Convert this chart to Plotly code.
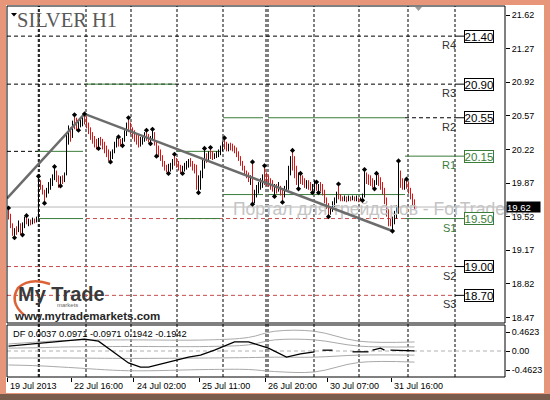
import plotly.graph_objects as go

# ---------------- data ----------------
chart_title = "SILVER H1"
bar_index = list(range(204))

opens = [
    19.60, 19.50, 19.42, 19.35, 19.38, 19.36, 19.45, 19.35, 19.44, 19.48, 19.46, 19.47, 19.45, 19.49, 19.47,
    19.50, 19.90, 19.82, 19.77, 19.72, 19.80, 19.85, 19.88, 19.94, 19.98, 19.90, 19.85, 19.92, 19.90, 19.96,
    20.33, 20.40, 20.35, 20.50, 20.46, 20.44, 20.50, 20.52, 20.55,
    20.50, 20.46, 20.40, 20.35, 20.30, 20.27, 20.25, 20.31, 20.28, 20.24, 20.20, 20.16, 20.12, 20.18, 20.20,
    20.28, 20.30, 20.28, 20.27, 20.32, 20.40, 20.47, 20.44,
    20.40, 20.36, 20.33, 20.30, 20.27, 20.32, 20.34, 20.38, 20.34, 20.31, 20.35, 20.36, 20.28, 20.20, 20.16,
    20.12, 20.06, 20.02, 20.00, 20.04, 20.06, 20.10, 20.08,
    20.05, 20.02, 19.99, 20.03, 20.06, 20.08, 20.10, 20.06, 20.03, 20.00, 19.82, 19.92, 19.98, 20.10, 20.15,
    20.12, 20.18, 20.15, 20.14, 20.16, 20.18, 20.20, 20.24,
    20.28, 20.25, 20.24, 20.26, 20.25, 20.22, 20.20, 20.16, 20.12, 20.07, 20.02, 19.98, 19.95, 19.90, 19.92,
    19.70, 19.76, 19.82, 19.85, 19.88, 19.94, 19.90,
    19.88, 19.86, 19.83, 19.80, 19.82, 19.79, 19.84, 19.76, 19.74, 19.82, 19.88, 20.02, 20.12, 20.04, 19.95,
    19.88, 19.90, 19.88, 19.87, 19.84, 19.86, 19.83, 19.81,
    19.84, 19.86, 19.81, 19.84, 19.80, 19.76, 19.68, 19.62, 19.58, 19.60, 19.66, 19.70, 19.76, 19.72, 19.71,
    19.70, 19.72, 19.69, 19.71, 19.70, 19.72, 19.70, 19.71,
    19.69, 19.70, 19.74, 19.96, 19.90, 19.88, 19.86, 19.84, 19.88, 19.92, 19.86, 19.82, 19.77, 19.67, 19.55,
    19.45, 19.44, 19.48, 19.55, 19.60, 19.95, 19.86, 19.84, 19.87,
    19.84, 19.78, 19.72, 19.66,
]
highs = [
    19.61, 19.55, 19.45, 19.40, 19.42, 19.48, 19.45, 19.46, 19.52, 19.53, 19.50, 19.49, 19.51, 19.50, 19.52,
    19.94, 19.90, 19.85, 19.80, 19.82, 19.88, 19.92, 19.96, 20.04, 20.00, 19.95, 19.94, 19.95, 19.98, 20.37,
    20.47, 20.45, 20.52, 20.58, 20.55, 20.52, 20.55, 20.57, 20.59,
    20.56, 20.50, 20.45, 20.40, 20.36, 20.33, 20.34, 20.35, 20.33, 20.30, 20.26, 20.22, 20.20, 20.22, 20.30,
    20.34, 20.35, 20.33, 20.34, 20.42, 20.50, 20.55, 20.50,
    20.45, 20.42, 20.38, 20.38, 20.35, 20.36, 20.40, 20.42, 20.38, 20.36, 20.43, 20.40, 20.30, 20.26, 20.22,
    20.16, 20.10, 20.06, 20.07, 20.08, 20.12, 20.17, 20.13,
    20.10, 20.06, 20.05, 20.08, 20.10, 20.12, 20.13, 20.10, 20.07, 20.06, 19.95, 20.00, 20.12, 20.23, 20.18,
    20.20, 20.24, 20.20, 20.18, 20.20, 20.22, 20.26, 20.30,
    20.34, 20.30, 20.28, 20.29, 20.28, 20.26, 20.24, 20.20, 20.15, 20.10, 20.05, 20.00, 19.98, 19.95, 20.09,
    19.80, 19.85, 19.88, 19.92, 19.96, 20.05, 19.98,
    19.95, 19.92, 19.90, 19.86, 19.86, 19.88, 19.84, 19.80, 19.84, 19.90, 20.05, 20.15, 20.21, 20.15, 20.05,
    19.98, 19.97, 19.95, 19.92, 19.90, 19.90, 19.88, 19.86,
    19.90, 19.88, 19.86, 19.88, 19.86, 19.80, 19.72, 19.66, 19.62, 19.68, 19.72, 19.78, 19.86, 19.75, 19.73,
    19.74, 19.73, 19.74, 19.73, 19.74, 19.73, 19.74, 19.72,
    19.72, 19.76, 20.01, 19.98, 19.96, 19.95, 19.92, 19.90, 19.97, 19.96, 19.93, 19.88, 19.82, 19.72, 19.60,
    19.50, 19.52, 19.58, 19.64, 20.10, 20.00, 19.92, 19.90, 19.91,
    19.88, 19.82, 19.76, 19.70,
]
lows = [
    19.49, 19.40, 19.32, 19.30, 19.33, 19.36, 19.33, 19.33, 19.40, 19.44, 19.42, 19.43, 19.44, 19.45, 19.46,
    19.50, 19.80, 19.75, 19.66, 19.72, 19.76, 19.80, 19.84, 19.90, 19.88, 19.82, 19.84, 19.86, 19.88, 19.95,
    20.27, 20.30, 20.34, 20.43, 20.42, 20.42, 20.45, 20.46, 20.48,
    20.44, 20.38, 20.32, 20.28, 20.24, 20.22, 20.23, 20.26, 20.22, 20.18, 20.14, 20.10, 20.09, 20.12, 20.18,
    20.24, 20.25, 20.25, 20.26, 20.30, 20.36, 20.40, 20.38,
    20.33, 20.30, 20.27, 20.24, 20.25, 20.27, 20.30, 20.31, 20.29, 20.28, 20.31, 20.26, 20.15, 20.14, 20.10,
    20.04, 20.00, 19.98, 19.97, 19.99, 20.01, 20.05, 20.03,
    20.00, 19.97, 19.97, 19.99, 20.01, 20.03, 20.04, 20.00, 19.97, 19.80, 19.77, 19.80, 19.92, 20.02, 20.08,
    20.10, 20.12, 20.11, 20.12, 20.13, 20.14, 20.16, 20.20,
    20.22, 20.20, 20.20, 20.21, 20.20, 20.18, 20.14, 20.10, 20.05, 20.00, 19.96, 19.92, 19.88, 19.85, 19.65,
    19.66, 19.72, 19.76, 19.80, 19.82, 19.85, 19.84,
    19.83, 19.80, 19.78, 19.73, 19.76, 19.78, 19.74, 19.67, 19.72, 19.78, 19.80, 19.95, 20.00, 19.92, 19.85,
    19.81, 19.86, 19.85, 19.82, 19.81, 19.80, 19.79, 19.77,
    19.78, 19.79, 19.77, 19.78, 19.74, 19.66, 19.60, 19.52, 19.54, 19.57, 19.62, 19.66, 19.70, 19.68, 19.68,
    19.68, 19.67, 19.68, 19.68, 19.69, 19.68, 19.68, 19.67,
    19.68, 19.69, 19.72, 19.86, 19.85, 19.84, 19.82, 19.81, 19.85, 19.84, 19.80, 19.75, 19.65, 19.52, 19.42,
    19.42, 19.37, 19.44, 19.50, 19.55, 19.82, 19.80, 19.80, 19.81,
    19.76, 19.70, 19.64, 19.60,
]
closes = [
    19.50, 19.42, 19.35, 19.38, 19.36, 19.45, 19.35, 19.44, 19.48, 19.46, 19.47, 19.45, 19.49, 19.47, 19.50,
    19.90, 19.82, 19.77, 19.72, 19.80, 19.85, 19.88, 19.94, 19.98, 19.90, 19.85, 19.92, 19.90, 19.96, 20.33,
    20.40, 20.35, 20.50, 20.46, 20.44, 20.50, 20.52, 20.55, 20.50,
    20.46, 20.40, 20.35, 20.30, 20.27, 20.25, 20.31, 20.28, 20.24, 20.20, 20.16, 20.12, 20.18, 20.20, 20.28,
    20.30, 20.28, 20.27, 20.32, 20.40, 20.47, 20.44, 20.40,
    20.36, 20.33, 20.30, 20.27, 20.32, 20.34, 20.38, 20.34, 20.31, 20.35, 20.36, 20.28, 20.20, 20.16, 20.12,
    20.06, 20.02, 20.00, 20.04, 20.06, 20.10, 20.08, 20.05,
    20.02, 19.99, 20.03, 20.06, 20.08, 20.10, 20.06, 20.03, 20.00, 19.82, 19.92, 19.98, 20.10, 20.15, 20.12,
    20.18, 20.15, 20.14, 20.16, 20.18, 20.20, 20.24, 20.28,
    20.25, 20.24, 20.26, 20.25, 20.22, 20.20, 20.16, 20.12, 20.07, 20.02, 19.98, 19.95, 19.90, 19.92, 19.70,
    19.76, 19.82, 19.85, 19.88, 19.94, 19.90, 19.88,
    19.86, 19.83, 19.80, 19.82, 19.79, 19.84, 19.76, 19.74, 19.82, 19.88, 20.02, 20.12, 20.04, 19.95, 19.88,
    19.90, 19.88, 19.87, 19.84, 19.86, 19.83, 19.81, 19.84,
    19.86, 19.81, 19.84, 19.80, 19.76, 19.68, 19.62, 19.58, 19.60, 19.66, 19.70, 19.76, 19.72, 19.71, 19.70,
    19.72, 19.69, 19.71, 19.70, 19.72, 19.70, 19.71, 19.69,
    19.70, 19.74, 19.96, 19.90, 19.88, 19.86, 19.84, 19.88, 19.92, 19.86, 19.82, 19.77, 19.67, 19.55, 19.45,
    19.44, 19.48, 19.55, 19.60, 19.95, 19.86, 19.84, 19.87, 19.84,
    19.78, 19.72, 19.66, 19.62,
]
for _name, _arr in (("opens", opens), ("highs", highs), ("lows", lows), ("closes", closes)):
    if len(_arr) != len(bar_index):
        raise ValueError(f"{_name} has {len(_arr)} values, expected {len(bar_index)}")

up_fractals = [0, 9, 15, 23, 33, 38, 55, 60, 69, 72, 83, 98, 101, 108, 122, 128, 142, 146, 154, 165, 178, 184, 195, 199]
down_fractals = [3, 7, 18, 26, 35, 45, 51, 57, 71, 74, 80, 87, 95, 122, 133, 137, 145, 152, 155, 160, 177, 183, 192]

zigzag_x = [-0.75, 38, 192]
zigzag_y = [19.71, 20.59, 19.37]

level_names = ["R4", "R3", "R2", "R1", "S1", "S2", "S3"]
level_values = [21.40, 20.90, 20.55, 20.15, 19.50, 19.00, 18.70]
bid_price = 19.62

# daily pivot segments (start bar, end bar, price)
green_seg_start = [14.75, 14.75, 38.75, 84.25, 84.25, 107.25, 107.25, 129.75, 129.75]
green_seg_end = [37.25, 37.25, 83.25, 105.75, 105.75, 127.25, 127.25, 198.25, 198.25]
green_seg_value = [20.20, 19.50, 20.90, 20.20, 19.50, 20.55, 19.75, 20.55, 19.75]

price_ticks = [21.62, 21.27, 20.92, 20.57, 20.22, 19.87, 19.52, 19.17, 18.82, 18.47]
time_tick_pos = [-0.75, 31.25, 62.5, 95.25, 128.25, 159.25, 191.25]
time_tick_labels = ["19 Jul 2013", "22 Jul 16:00", "24 Jul 02:00", "25 Jul 11:00",
                    "26 Jul 20:00", "30 Jul 07:00", "31 Jul 16:00"]
day_separators = [14.9, 15.4, 38.75, 61.25, 84.25, 107.25, 128.75, 129.75, 152.75, 175.25, 199.75, 223.25]

# DF oscillator
df_x = [0, 15, 30, 38, 45, 53, 60, 66, 70, 80, 90, 96, 103, 113, 120, 130, 139, 146, 153, 155,
        157, 162, 165, 172, 180, 181, 182, 186, 188, 189, 191, 203]
df_v = [0.12, 0.19, 0.27, 0.29, 0.24, -0.05, -0.29, -0.39, -0.39, -0.27, -0.15, -0.10, 0.02, 0.22, 0.22,
        0.07, -0.15, -0.07, -0.02, None, 0.02, 0.02, None, -0.02, -0.02, None, 0.02, 0.07, 0.02, None,
        0.02, 0.0037]
band_x = [0, 15, 30, 60, 100, 120, 133, 153, 175, 203]
band_u2 = [0.17, 0.22, 0.26, 0.27, 0.27, 0.33, 0.48, 0.48, 0.24, 0.22]
band_u1 = [0.07, 0.08, 0.10, 0.11, 0.11, 0.15, 0.27, 0.27, 0.12, 0.10]
band_l1 = [-0.17, -0.17, -0.17, -0.18, -0.17, -0.16, -0.15, -0.15, -0.10, -0.10]
band_l2 = [-0.34, -0.36, -0.40, -0.48, -0.45, -0.45, -0.50, -0.51, -0.28, -0.27]
df_label = "DF 0.0037 0.0971 -0.0971 0.1942 -0.1942"
df_ticks = [0.4623, 0.0, -0.4623]
df_tick_text = ["0.4623", "0.00", "-0.4623"]

# ---------------- styling ----------------
GREEN = "#3a7d3a"
RED_DASH = "#c84c4c"
FONT = "Liberation Sans"
L, R, T, B = 7, 45, 6, 23
W, H = 550, 400
PW, PH = W - L - R, H - T - B


def P(px, py):
    return (px - L) / PW, (H - B - py) / PH


def path_from(points, close=False):
    s = ""
    for cmd, pts in points:
        s += cmd + " " + " ".join(f"{P(a, b)[0]:.5f},{P(a, b)[1]:.5f}" for a, b in pts) + " "
    return s + ("Z" if close else "")


fig = go.Figure()

# watermark (under the bars)
fig.add_trace(go.Scatter(x=[112.25], y=[19.585], mode="text",
                         text=["Портал для трейдеров - ForTrader.ru"], textposition="middle right",
                         textfont=dict(family=FONT, size=17.5, color="#c4c4c4"),
                         cliponaxis=False, hoverinfo="skip", xaxis="x", yaxis="y"))

fig.add_trace(go.Ohlc(x=bar_index, open=opens, high=highs, low=lows, close=closes,
                      increasing=dict(line=dict(color="#000000", width=1)),
                      decreasing=dict(line=dict(color="#d01818", width=1)),
                      tickwidth=0.1, xaxis="x", yaxis="y", hoverinfo="skip"))

fig.add_trace(go.Scatter(x=zigzag_x, y=zigzag_y, mode="lines",
                         line=dict(color="#6c6c6c", width=2.5), xaxis="x", yaxis="y", hoverinfo="skip"))

fig.add_trace(go.Scatter(x=up_fractals, y=[highs[i] for i in up_fractals], mode="markers",
                         marker=dict(symbol="diamond", size=4, color="black"), xaxis="x", yaxis="y"))
fig.add_trace(go.Scatter(x=down_fractals, y=[lows[i] for i in down_fractals], mode="markers",
                         marker=dict(symbol="diamond", size=4, color="black"), xaxis="x", yaxis="y"))

# indicator
for band in (band_u2, band_u1, band_l1, band_l2):
    fig.add_trace(go.Scatter(x=band_x, y=band, mode="lines", line=dict(color="#a9a9a9", width=1, shape="spline"),
                             xaxis="x", yaxis="y2", hoverinfo="skip"))
fig.add_trace(go.Scatter(x=df_x, y=df_v, mode="lines", line=dict(color="black", width=1.3),
                         connectgaps=False, xaxis="x", yaxis="y2", hoverinfo="skip"))

shapes = []
# frame
x0, y0 = P(6, 5)
x1, y1 = P(544, 393)
shapes.append(dict(type="rect", xref="paper", yref="paper", x0=x0, y0=y0, x1=x1, y1=y1,
                   fillcolor="white", line=dict(width=0), layer="below"))
x0, y0 = P(0, 394)
x1, y1 = P(550, 400)
shapes.append(dict(type="rect", xref="paper", yref="paper", x0=x0, y0=y0, x1=x1, y1=y1,
                   fillcolor="#7a5c4c", line=dict(width=0), layer="below"))

# vertical day separators
for xs in day_separators:
    shapes.append(dict(type="line", xref="x", yref="paper", x0=xs, x1=xs, y0=0, y1=1,
                       line=dict(color="black", width=1, dash="3px,2px"), layer="below"))

# bid line
shapes.append(dict(type="line", xref="x", yref="y", x0=-0.75, x1=248.25, y0=bid_price, y1=bid_price,
                   line=dict(color="#b8b8b8", width=1), layer="below"))

# full-width levels
for nm, val in zip(level_names, level_values):
    if nm in ("R4", "R3"):
        shapes.append(dict(type="line", xref="x", yref="y", x0=-0.75, x1=223.25, y0=val, y1=val,
                           line=dict(color="black", width=1, dash="4px,3px"), layer="below"))
    if nm in ("S2", "S3"):
        shapes.append(dict(type="line", xref="x", yref="y", x0=-0.75, x1=223.25, y0=val, y1=val,
                           line=dict(color=RED_DASH, width=1, dash="4px,3px"), layer="below"))
# partial dashed levels
shapes.append(dict(type="line", xref="x", yref="y", x0=-0.75, x1=14.75, y0=20.20, y1=20.20,
                   line=dict(color="black", width=1, dash="4px,3px"), layer="below"))
shapes.append(dict(type="line", xref="x", yref="y", x0=38.75, x1=198.25, y0=19.50, y1=19.50,
                   line=dict(color=RED_DASH, width=1, dash="4px,3px"), layer="below"))
shapes.append(dict(type="line", xref="x", yref="y", x0=198.25, x1=223.25, y0=20.55, y1=20.55,
                   line=dict(color="black", width=1, dash="4px,3px"), layer="below"))
# green daily segments
for s, e, v in zip(green_seg_start, green_seg_end, green_seg_value):
    shapes.append(dict(type="line", xref="x", yref="y", x0=s, x1=e, y0=v, y1=v,
                       line=dict(color=GREEN, width=1), layer="below"))
for nm, val in zip(level_names, level_values):
    if nm in ("R1", "S1"):
        shapes.append(dict(type="line", xref="x", yref="y", x0=198.25, x1=223.25, y0=val, y1=val,
                           line=dict(color=GREEN, width=1), layer="below"))
    col = GREEN if nm in ("R1", "S1") else "black"
    shapes.append(dict(type="line", xref="x", yref="y", x0=223.25, x1=227.75, y0=val, y1=val,
                       line=dict(color=col, width=1), layer="below"))

# zero line in indicator
shapes.append(dict(type="line", xref="paper", yref="y2", x0=0, x1=1, y0=0, y1=0,
                   line=dict(color="#b0b0b0", width=1, dash="4px,3px"), layer="below"))

# panel borders
for (a, b, c, d) in ((7, 6, 505, 323), (7, 325, 505, 377)):
    xa, ya = P(a, b)
    xb, yb = P(c, d)
    shapes.append(dict(type="rect", xref="paper", yref="paper", x0=xa, y0=yb, x1=xb, y1=ya,
                       line=dict(color="black", width=1), fillcolor="rgba(0,0,0,0)", layer="above"))

# small triangles
shapes.append(dict(type="path", xref="paper", yref="paper",
                   path=path_from([("M", [(11, 13)]), ("L", [(17, 13)]), ("L", [(14, 16.5)])], close=True),
                   fillcolor="black", line=dict(width=0)))
shapes.append(dict(type="path", xref="paper", yref="paper",
                   path=path_from([("M", [(415, 7)]), ("L", [(422, 7)]), ("L", [(418.5, 11)])], close=True),
                   fillcolor="#9a9a9a", line=dict(width=0)))
# logo swoosh
shapes.append(dict(type="path", xref="paper", yref="paper",
                   path=path_from([("M", [(24, 315)]), ("Q", [(9, 302), (18, 288)]), ("Q", [(30, 277), (50, 284)])]),
                   line=dict(color="#dc6238", width=2.5)))

annotations = []
annotations.append(dict(xref="paper", yref="paper", x=P(15, 20)[0], y=P(15, 20)[1], xanchor="left",
                        yanchor="middle", text=chart_title, showarrow=False,
                        font=dict(family="Liberation Serif", size=20.5, color="#595959")))
# level labels
for nm, val in zip(level_names, level_values):
    col = GREEN if nm in ("R1", "S1") else "black"
    ncol = GREEN if nm in ("R1", "S1") else "#333333"
    annotations.append(dict(xref="x", yref="y", x=227.75, y=val, xanchor="left", yanchor="middle",
                            text=f"{val:.2f}", showarrow=False, font=dict(family=FONT, size=11.5, color=col),
                            bordercolor=col, borderwidth=1, borderpad=0, bgcolor="white", width=28, height=11))
    annotations.append(dict(xref="x", yref="y", x=224.6, y=val, xanchor="right", yanchor="top", yshift=-1,
                            text=nm, showarrow=False, font=dict(family=FONT, size=11, color=ncol)))
# bid label
annotations.append(dict(xref="paper", yref="y", x=P(506, 0)[0], y=bid_price, xanchor="left", yanchor="middle",
                        text=f"{bid_price:.2f}", showarrow=False, font=dict(family=FONT, size=9.5, color="white"),
                        bgcolor="black", borderpad=0, width=33, height=10, align="left"))
# time labels
for pos, lab in zip(time_tick_pos, time_tick_labels):
    annotations.append(dict(xref="x", yref="paper", x=pos, y=P(0, 386)[1], xanchor="left", yanchor="middle",
                            xshift=1, text=lab, showarrow=False, font=dict(family=FONT, size=9, color="black")))
# indicator label
annotations.append(dict(xref="paper", yref="paper", x=P(11, 334)[0], y=P(11, 334)[1], xanchor="left",
                        yanchor="middle", text=df_label, showarrow=False,
                        font=dict(family=FONT, size=9.3, color="black")))
# logo
annotations.append(dict(xref="paper", yref="paper", x=P(16, 294)[0], y=P(16, 294)[1], xanchor="left",
                        yanchor="middle", text="<b>My Trade</b>", showarrow=False,
                        font=dict(family=FONT, size=20, color="#3a3a3a")))
annotations.append(dict(xref="paper", yref="paper", x=P(55, 305)[0], y=P(55, 305)[1], xanchor="left",
                        yanchor="middle", text="markets", showarrow=False,
                        font=dict(family=FONT, size=6, color="#666666")))
annotations.append(dict(xref="paper", yref="paper", x=P(12, 316)[0], y=P(12, 316)[1], xanchor="left",
                        yanchor="middle", text="<b>www.mytrademarkets.com</b>", showarrow=False,
                        font=dict(family=FONT, size=11.5, color="#262626")))

fig.update_layout(
    width=W, height=H, autosize=False,
    margin=dict(l=L, r=R, t=T, b=B, pad=0),
    paper_bgcolor="#e8967a", plot_bgcolor="white",
    showlegend=False, hovermode=False,
    xaxis=dict(domain=[0, 1], range=[-0.75, 248.25], anchor="y2", showgrid=False, zeroline=False,
               showline=False, ticks="outside", ticklen=4, tickcolor="black", tickmode="array",
               tickvals=time_tick_pos, showticklabels=False, rangeslider=dict(visible=False), fixedrange=True),
    yaxis=dict(domain=[(377 - 323) / PH, 1], range=[18.412, 21.714], side="right", anchor="x",
               showgrid=False, zeroline=False, showline=False, ticks="outside", ticklen=4, tickcolor="black",
               tickmode="array", tickvals=price_ticks, ticktext=[f"{v:.2f}" for v in price_ticks],
               tickfont=dict(family=FONT, size=9, color="black"), fixedrange=True),
    yaxis2=dict(domain=[0, (377 - 325) / PH], range=[-0.6326, 0.6326], side="right", anchor="x",
                showgrid=False, zeroline=False, showline=False, ticks="outside", ticklen=4, tickcolor="black",
                tickmode="array", tickvals=df_ticks, ticktext=df_tick_text,
                tickfont=dict(family=FONT, size=9, color="black"), fixedrange=True),
    shapes=shapes, annotations=annotations,
)

fig.write_html("out.html", config={"displayModeBar": False},
               post_script="document.body.style.margin='0px';document.body.style.padding='0px';")
